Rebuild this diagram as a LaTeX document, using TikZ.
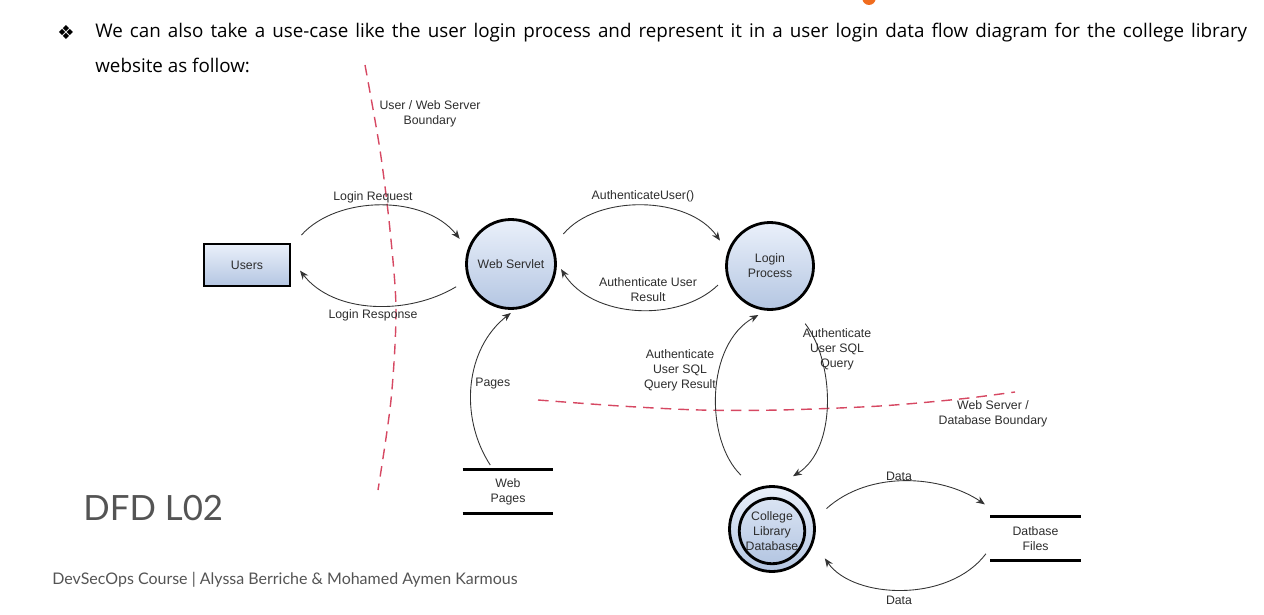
\documentclass[tikz,border=0pt]{standalone}
\usepackage{fontspec}
\setmainfont{Liberation Sans}
\newfontfamily\slidefont{Open Sans}
\newfontfamily\footfont{Lato}
\newfontfamily\symbfont{DejaVu Sans}
\usetikzlibrary{arrows.meta}

\definecolor{dfdlight}{RGB}{234,240,250}
\definecolor{dfddark}{RGB}{180,198,226}
\definecolor{bound}{RGB}{214,72,98}
\definecolor{labgray}{RGB}{45,45,45}
\definecolor{footgray}{RGB}{84,84,84}
\definecolor{slideorange}{RGB}{240,108,30}

\newcommand{\dfdfont}{\fontsize{7}{8.5}\selectfont}

\tikzset{
  proc/.style={circle, draw, line width=1.6pt, top color=dfdlight, bottom color=dfddark,
    minimum size=1.78cm, inner sep=0pt, align=center, font=\dfdfont, text=labgray},
  ext/.style={rectangle, draw, line width=1.6pt, top color=dfdlight, bottom color=dfddark,
    minimum width=1.72cm, minimum height=0.84cm, font=\dfdfont, text=labgray},
  store/.style={minimum width=1.8cm, minimum height=0.88cm, inner sep=0pt, align=center,
    font=\dfdfont, text=labgray},
  storeline/.style={line width=1.6pt},
  flow/.style={draw=black!80, line width=0.5pt, -{Stealth[length=5pt,width=4pt]}},
  lab/.style={font=\dfdfont, text=labgray, align=center, inner sep=0pt},
  boundary/.style={draw=bound, dash pattern=on 6pt off 4pt, line width=0.8pt},
}

\begin{document}
\begin{tikzpicture}  % ------ DFD niveau 2 : login de la bibliotheque --------------
      [x=0.02cm, y=0.02cm]

    \useasboundingbox (0,0) rectangle (1264,-615);
    \fill[slideorange] (869,1.7) circle (6.7);

    % texte de la diapositive
    \node[font=\symbfont\fontsize{11}{11}\selectfont] (bullet) at (66,-32) {❖};
    \node[anchor=base west, inner sep=0pt, font=\slidefont\fontsize{10.7}{13}\selectfont] (intro1) at (95,-38)
      {\makebox[23.04cm][s]{We can also take a use-case like the user login process and represent it in a user login data flow diagram for the college library}};
    \node[anchor=base west, inner sep=0pt, font=\slidefont\fontsize{10.7}{13}\selectfont] (intro2) at (95,-73) {website as follow:};
    \node[anchor=base west, inner sep=0pt, font=\footfont\fontsize{19.8}{24}\selectfont, text=footgray] (title) at (83,-520) {DFD L02};
    \node[anchor=base west, inner sep=0pt, font=\footfont\fontsize{9.1}{11}\selectfont, text=footgray] (foot) at (52,-584)
      {DevSecOps Course | Alyssa Berriche \& Mohamed Aymen Karmous};

    % frontieres
    \draw[boundary] plot[smooth] coordinates {(365,-65) (380,-150) (390,-230) (396,-310) (391,-400) (378,-490)};
    \draw[boundary] plot[smooth] coordinates {(538,-400) (620,-406) (700,-410) (780,-410) (880,-406) (960,-399) (1015,-392)};
    \node[lab] (bnd1) at (430,-114) {User / Web Server\\Boundary};
    \node[lab] (bnd2) at (993,-414) {Web Server /\\Database Boundary};

    % entites, processus, stockages
    \node[ext] (users) at (247,-265) {Users};
    \node[proc] (servlet) at (511,-264) {Web Servlet};
    \node[proc, minimum size=1.74cm] (login) at (770,-266) {Login\\Process};
    \node[proc, minimum size=1.7cm] (db) at (772,-529) {};
    \node[proc, minimum size=1.24cm, top color=dfdlight!70!dfddark, bottom color=dfddark] (dbin) at (772,-531) {College\\Library\\Database};
    \node[store] (pages) at (508,-491.5) {Web\\Pages};
    \node[store] (files) at (1035.5,-538.5) {Datbase\\Files};
    \draw[storeline] (pages.north west) -- (pages.north east); \draw[storeline] (pages.south west) -- (pages.south east);
    \draw[storeline] (files.north west) -- (files.north east); \draw[storeline] (files.south west) -- (files.south east);

    % flux
    \draw[flow, shorten <=8.5pt, shorten >=7.4pt] (users.23) to[out=48,in=128] (servlet.161);
    \draw[flow, shorten <=7.8pt, shorten >=8pt] (servlet.200) to[out=211,in=308] (users.7);
    \draw[flow, shorten <=9pt, shorten >=7.5pt] (servlet.23) to[out=50,in=125] (login.161);
    \draw[flow, shorten <=6.7pt, shorten >=4.5pt] (login.194) to[out=224,in=302] (servlet.2);
    \draw[flow, shorten <=2.8pt, shorten >=3pt] (pages.124) to[out=123,in=218] (servlet.275);
    \draw[flow, shorten <=11pt, shorten >=5pt] (db.113) to[out=136,in=209] (login.265);
    \draw[flow, shorten <=13pt, shorten >=10pt] (login.298) to[out=308,in=32] (db.82);
    \draw[flow, shorten <=9pt, shorten >=12pt] (db.13) to[out=42,in=146] (files.146);
    \draw[flow, shorten <=4pt, shorten >=11pt] (files.192) to[out=233,in=305] (db.342);

    \draw (373,-197) node[lab] (reqlab) {Login Request};
    \draw (373,-315) node[lab] (replab) {Login Response};
    \draw (643,-196) node[lab] (authlab) {AuthenticateUser()};
    \draw (648,-290) node[lab] (reslab) {Authenticate User\\Result};
    \draw (475,-384) node[lab, anchor=west] (pagelab) {Pages};
    \draw (680,-370) node[lab] (qrlab) {Authenticate\\User SQL\\Query Result};
    \draw (837,-349) node[lab] (qlab) {Authenticate\\User SQL\\Query};
    \draw (899,-476) node[lab] (datalab1) {Data};
    \draw (899,-600) node[lab] (datalab2) {Data};
\end{tikzpicture}
\end{document}
